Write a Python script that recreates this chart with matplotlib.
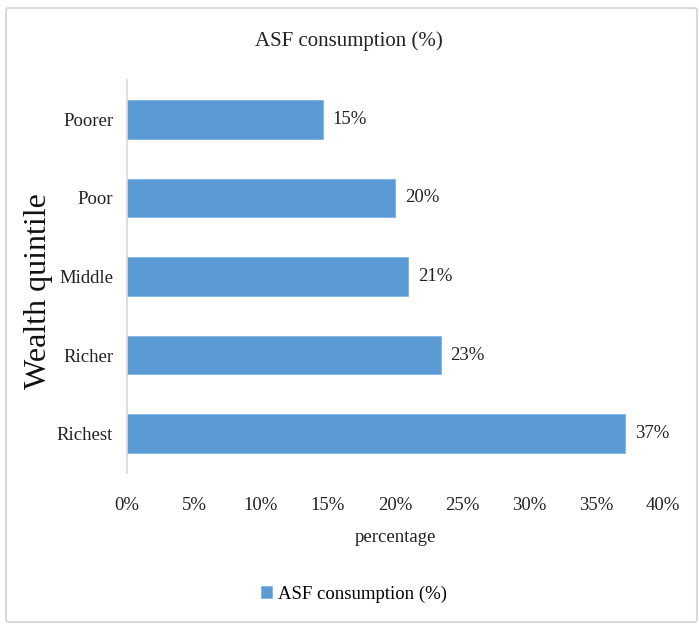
import matplotlib.pyplot as plt
from matplotlib.patches import FancyBboxPatch

# data
quintiles = ["Poorer", "Poor", "Middle", "Richer", "Richest"]
asf_pct = [14.6, 20.0, 21.0, 23.4, 37.2]
x_ticks = [0, 5, 10, 15, 20, 25, 30, 35, 40]

BLUE = "#5B9BD5"
GREY = "#D9D9D9"

plt.rcParams["font.family"] = ["Liberation Serif", "DejaVu Serif"]

W, H = 699, 631
fig = plt.figure(figsize=(W / 100, H / 100), dpi=100)

# outer chart frame
frame = FancyBboxPatch((6 / W, 1 - 622 / H), 691 / W, 614 / H,
                       boxstyle="round,pad=0,rounding_size=0.004",
                       transform=fig.transFigure, facecolor="none",
                       edgecolor=GREY, linewidth=1.5, zorder=-1)
fig.patches.append(frame)

ax = fig.add_axes([127 / W, 1 - 473 / H, 536 / W, 393 / H])
ax.set_facecolor("none")

ypos = list(range(len(quintiles)))
bars = ax.barh(ypos, asf_pct, height=0.49, color=BLUE, edgecolor="#7FB3E0", linewidth=0.6)

for b, v in zip(bars, asf_pct):
    ax.text(b.get_width() + 0.75, b.get_y() + b.get_height() / 2, f"{v:.0f}%",
            va="center", ha="left", fontsize=13.5, color="#222222")

ax.set_yticks(ypos)
ax.set_yticklabels(quintiles, fontsize=13.5, color="#222222")
ax.set_ylim(len(quintiles) - 0.5, -0.5)

ax.set_xlim(0, 40)
ax.set_xticks(x_ticks)
ax.set_xticklabels([f"{t}%" for t in x_ticks], fontsize=13.5, color="#222222")
ax.tick_params(axis="both", length=0)
ax.tick_params(axis="x", pad=17)
ax.tick_params(axis="y", pad=10)

for s in ["top", "right", "bottom"]:
    ax.spines[s].set_visible(False)
ax.spines["left"].set_color(GREY)
ax.spines["left"].set_linewidth(1.2)

fig.text(395 / W, 1 - 538 / H, "percentage", ha="center", va="center",
         fontsize=13.5, color="#222222")
fig.text(39 / W, 1 - 291 / H, "Wealth quintile", ha="center", va="center",
         rotation=90, fontsize=23, color="#111111")
fig.text(349 / W, 1 - 41 / H, "ASF consumption (%)", ha="center", va="center",
         fontsize=15, color="#222222")

# legend below the plot
leg = fig.legend([bars], ["ASF consumption (%)"], loc="center",
                 bbox_to_anchor=(354 / W, 1 - 594 / H), frameon=False,
                 fontsize=13.5, handlelength=0.6, handleheight=0.6,
                 handletextpad=0.3)

fig.savefig("out.png", dpi=100)
